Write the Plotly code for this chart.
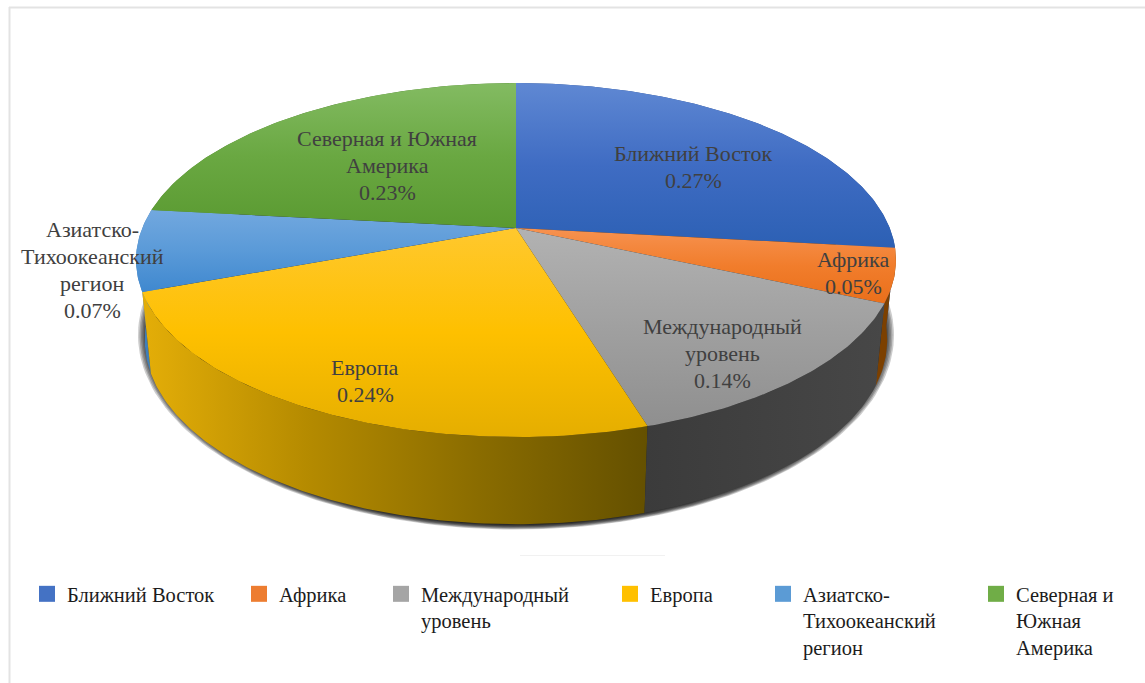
import numpy as np
import plotly.graph_objects as go

# --- data ---
categories = ["Ближний Восток", "Африка", "Международный уровень", "Европа",
              "Азиатско-Тихоокеанский регион", "Северная и Южная Америка"]
values = [0.268, 0.049, 0.136, 0.240, 0.074, 0.233]
value_labels = ["0.27%", "0.05%", "0.14%", "0.24%", "0.07%", "0.23%"]
label_lines = ["Ближний Восток", "Африка", "Международный<br>уровень", "Европа",
               "Азиатско-<br>Тихоокеанский<br>регион", "Северная и Южная<br>Америка"]
legend_lines = ["Ближний Восток", "Африка", "Международный<br>уровень", "Европа",
                "Азиатско-<br>Тихоокеанский<br>регион", "Северная и<br>Южная<br>Америка"]

# --- style (top face colours listed from page-bottom to page-top) ---
top_colors = [
    ["#2c60b4", "#3f6cc3", "#5f88d3"],
    ["#ea6f1a", "#f17d2c", "#f79250"],
    ["#8f8f8f", "#a0a0a0", "#b2b2b2"],
    ["#e5ae00", "#fec000", "#ffc82e"],
    ["#3f88cf", "#5a9ad8", "#72a8df"],
    ["#5a9a31", "#6aa842", "#83bb62"],
]
wall_colors = [
    ["#2c4f8f", "#2c4f8f"],
    ["#7c4000", "#7c4000"],
    ["#3b3b3b", "#474747"],
    ["#e4ae08", "#b48a00", "#8a6c00", "#645000"],
    ["#3f7fba", "#3f7fba"],
    ["#4f7f30", "#4f7f30"],
]
swatch_colors = ["#4472c4", "#ed7d31", "#a5a5a5", "#ffc000", "#5b9bd5", "#70ad47"]
label_xy = [(693, 166.5), (853, 273), (722, 353), (365, 381), (92, 269.5), (387, 165)]
legend_xy = [(27, 574), (239, 574), (381, 574), (610, 574), (763, 574), (976, 574)]
LINE_STEP = 27
FONT = "Liberation Serif"
CX, CY = 516.0, 228.0   # pie apex on the page
A, B, D = 373.7, 171.2, 0.181   # perspective ellipse
S = 0.977               # shrink of the lower rim


def rim(t, lower=False):
    X, Y = np.sin(t), -np.cos(t)
    w = 1 - D * Y
    x, y = A * X / w, B * Y / w
    if lower:
        return CX + S * x, CY + S * y + 78 + 14 * Y
    return CX + x, CY + y


def arc(t0, t1):
    return np.linspace(t0, t1, max(int((t1 - t0) * 80), 4))


def colorscale(cols):
    return [[i / (len(cols) - 1), c] for i, c in enumerate(cols)]


fig = go.Figure()
edges = 2 * np.pi * np.concatenate([[0], np.cumsum(values) / np.sum(values)])

# soft shadow under the body
for k in range(9):
    t = np.linspace(0, 2 * np.pi, 240)
    rx = 378 - 1.5 * k
    ry = 194.5 - 0.65 * k
    fig.add_trace(go.Scatter(x=516 + rx * np.cos(t), y=335 + ry * np.sin(t), mode="lines",
                             fill="toself", fillcolor="rgba(0,0,0,0.2)",
                             line=dict(width=0), hoverinfo="skip", showlegend=False))

# side walls, back to front
for i in [5, 0, 4, 1, 3, 2]:
    t = arc(edges[i], edges[i + 1])
    xt, yt = rim(t)
    xb, yb = rim(t[::-1], True)
    x = np.r_[xt, xb, xt[0]]
    y = np.r_[yt, yb, yt[0]]
    fig.add_trace(go.Scatter(
        x=x, y=y, mode="lines", fill="toself", line=dict(width=0), hoverinfo="skip", showlegend=False,
        fillgradient=dict(type="horizontal", colorscale=colorscale(wall_colors[i]))))

# top faces
for i in range(6):
    t = arc(edges[i], edges[i + 1])
    xt, yt = rim(t)
    x = np.r_[CX, xt, CX]
    y = np.r_[CY, yt, CY]
    fig.add_trace(go.Scatter(
        x=x, y=y, mode="lines", fill="toself", line=dict(width=0), hoverinfo="skip", showlegend=False,
        fillgradient=dict(type="vertical", colorscale=colorscale(top_colors[i]))))

# legends
layout_legends = {}
for i, name in enumerate(legend_lines):
    key = "legend" if i == 0 else f"legend{i + 1}"
    fig.add_trace(go.Scatter(x=[None], y=[None], mode="markers", name=name, legend=key,
                             showlegend=True,
                             marker=dict(symbol="square", size=16, color=swatch_colors[i])))
    layout_legends[key] = dict(
        x=legend_xy[i][0] / 1145, y=1 - legend_xy[i][1] / 683, xanchor="left", yanchor="top",
        bgcolor="rgba(0,0,0,0)", borderwidth=0, itemwidth=30, itemclick=False, itemdoubleclick=False,
        font=dict(family=FONT, size=20.5, color="#1c1c1c"), valign="top", tracegroupgap=0)

# data labels: one annotation per printed line, to keep the reference's line step
annotations = []
for i in range(6):
    lines = label_lines[i].split("<br>") + [value_labels[i]]
    for j, line in enumerate(lines):
        annotations.append(dict(
            x=label_xy[i][0], y=label_xy[i][1] + (j - (len(lines) - 1) / 2) * LINE_STEP,
            xref="x", yref="y", showarrow=False, align="center", text=line,
            font=dict(family=FONT, size=22, color="#404040")))

fig.update_layout(
    width=1145, height=683, margin=dict(l=0, r=0, t=0, b=0),
    paper_bgcolor="white", plot_bgcolor="white",
    xaxis=dict(range=[0, 1145], visible=False, fixedrange=True),
    yaxis=dict(range=[683, 0], visible=False, fixedrange=True),
    annotations=annotations,
    shapes=[
        dict(type="line", xref="x", yref="y", x0=9.5, x1=9.5, y0=7, y1=683, line=dict(color="#e3e3e3", width=2)),
        dict(type="line", xref="x", yref="y", x0=9, x1=1145, y0=7.5, y1=7.5, line=dict(color="#e3e3e3", width=2)),
        dict(type="line", xref="x", yref="y", x0=520, x1=665, y0=555.5, y1=555.5, line=dict(color="#f1f1f1", width=1)),
    ],
    **layout_legends,
)
fig.write_html("out.html", config={"displayModeBar": False},
               post_script="document.body.style.margin='0';document.documentElement.style.overflow='hidden';")
